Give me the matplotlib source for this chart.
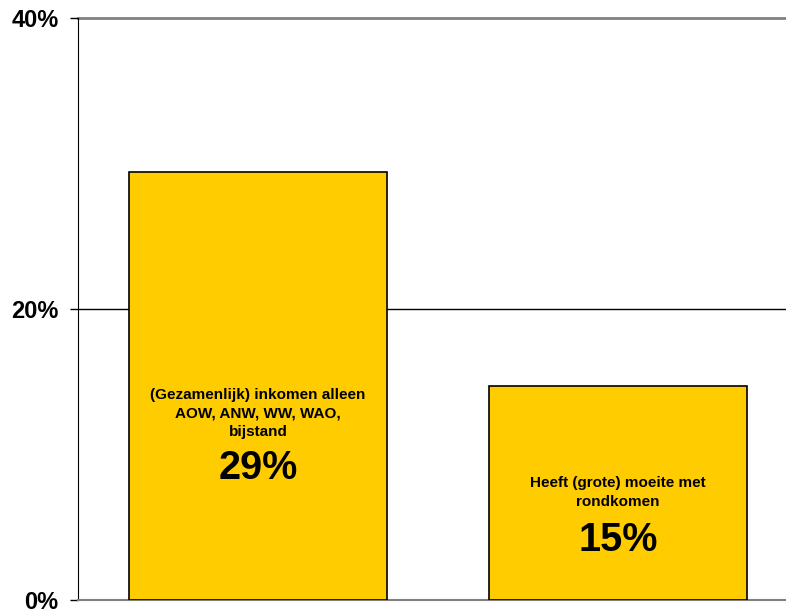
import matplotlib.pyplot as plt

plt.rcParams['font.family'] = ['Liberation Sans', 'DejaVu Sans']

# bar heights in percent
values = [29.4, 14.7]
labels = ['(Gezamenlijk) inkomen alleen\nAOW, ANW, WW, WAO,\nbijstand',
          'Heeft (grote) moeite met\nrondkomen']
yticks = [0, 20, 40]

fig = plt.figure(figsize=(7.86, 6.11), dpi=100)
ax = fig.add_axes([78/786, 11/611, 708/786, 582/611])

x = list(range(len(values)))
bars = ax.bar(x, values, width=0.717, color='#FFCC00', edgecolor='black',
              linewidth=1.2, zorder=3)

ax.set_xlim(-0.5, 1.467)
ax.set_ylim(0, 40)
ax.set_yticks(yticks)
ax.set_yticklabels([f'{v}%' for v in yticks], fontsize=17, fontweight='bold')
ax.tick_params(axis='y', length=6, width=1, pad=8)
ax.set_xticks([])

# horizontal grid: middle line black, top line grey
ax.axhline(20, color='black', linewidth=1, zorder=1)
ax.axhline(40, color='#808080', linewidth=2, zorder=1, clip_on=False)

for s in ['top', 'right']:
    ax.spines[s].set_visible(False)
ax.spines['left'].set_color('black')
ax.spines['bottom'].set_color('#808080')
ax.spines['bottom'].set_linewidth(1.5)

# text inside bars
text_pos = [(12.8, 9.1), (7.4, 4.1)]
for xi, v, lab, (ty, py) in zip(x, values, labels, text_pos):
    ax.text(xi, ty, lab, ha='center', va='center', fontsize=11,
            fontweight='bold', linespacing=1.4, zorder=4)
    ax.text(xi, py, f'{round(v)}%', ha='center', va='center', fontsize=28.5,
            fontweight='bold', zorder=4)

fig.savefig('out.png', dpi=100)
